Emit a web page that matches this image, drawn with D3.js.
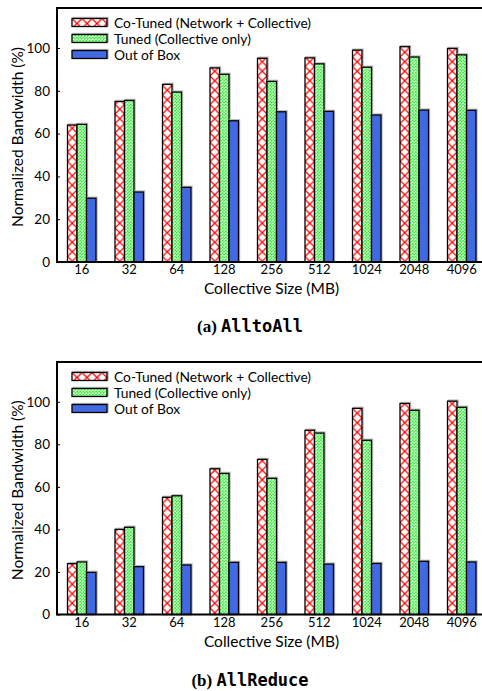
<!DOCTYPE html>
<html>
<head>
<meta charset="utf-8">
<script src="https://cdn.jsdelivr.net/npm/d3@7/dist/d3.min.js"></script>
<style>
  html, body { margin: 0; padding: 0; background: #fff; }
  svg { display: block; }
</style>
</head>
<body>
<svg id="chart" width="482" height="691"></svg>
<script>
// ---------------- data ----------------
const categories = ["16", "32", "64", "128", "256", "512", "1024", "2048", "4096"];
const seriesNames = ["Co-Tuned (Network + Collective)", "Tuned (Collective only)", "Out of Box"];
const yTicks = [0, 20, 40, 60, 80, 100];

const allToAllCoTuned = [64.0, 75.0, 83.0, 90.7, 95.2, 95.4, 99.0, 100.6, 99.8];
const allToAllTuned   = [64.3, 75.5, 79.4, 87.7, 84.4, 92.6, 91.0, 95.8, 96.8];
const allToAllOOB     = [29.8, 32.7, 34.9, 66.0, 70.2, 70.4, 68.7, 71.0, 70.9];

const allReduceCoTuned = [23.9, 40.0, 55.1, 68.5, 72.9, 86.6, 96.9, 99.2, 100.3];
const allReduceTuned   = [24.7, 41.0, 55.8, 66.3, 64.0, 85.3, 81.9, 96.0, 97.4];
const allReduceOOB     = [19.8, 22.5, 23.3, 24.5, 24.5, 23.7, 24.0, 25.0, 24.7];

const panelA = { label: "(a)", name: "AlltoAll", series: [allToAllCoTuned, allToAllTuned, allToAllOOB] };
const panelB = { label: "(b)", name: "AllReduce", series: [allReduceCoTuned, allReduceTuned, allReduceOOB] };

// ---------------- drawing ----------------
const svg = d3.select("#chart");
const FONT = "Lato, 'Open Sans', sans-serif";
const left = 57, right = 486;
const barW = 9.5;

const x = d3.scaleBand().domain(categories).range([58, 485.5]).padding(0);
const xs = d3.scaleBand().domain([0, 1, 2]).range([-1.5 * barW, 1.5 * barW]).padding(0);
const firstRedX = x(categories[0]) + x.bandwidth() / 2 + xs(0);

const defs = svg.append("defs");
// red cross (diamond) hatch
const pr = defs.append("pattern").attr("id", "redHatch").attr("patternUnits", "userSpaceOnUse")
  .attr("x", firstRedX).attr("y", 0).attr("width", barW).attr("height", barW);
pr.append("rect").attr("width", barW).attr("height", barW).attr("fill", "#fff");
pr.append("path").attr("d", `M0,0L${barW},${barW}M${barW},0L0,${barW}`)
  .attr("stroke", "#ff0000").attr("stroke-width", 1.25).attr("fill", "none");
// legend red hatch (aligned to legend box)
const prl = defs.append("pattern").attr("id", "redHatchL").attr("patternUnits", "userSpaceOnUse")
  .attr("x", 72).attr("y", 0).attr("width", 10).attr("height", 10);
prl.append("rect").attr("width", 10).attr("height", 10).attr("fill", "#fff");
prl.append("path").attr("d", "M0,0L10,10M10,0L0,10")
  .attr("stroke", "#ff0000").attr("stroke-width", 1.25).attr("fill", "none");
// green fine cross hatch
const gw = barW / 3;
const pg = defs.append("pattern").attr("id", "greenHatch").attr("patternUnits", "userSpaceOnUse")
  .attr("x", firstRedX).attr("y", 0).attr("width", gw).attr("height", gw);
pg.append("rect").attr("width", gw).attr("height", gw).attr("fill", "#fff");
pg.append("path").attr("d", `M0,0L${gw},${gw}M${gw},0L0,${gw}`)
  .attr("stroke", "#22ee22").attr("stroke-width", 0.8).attr("fill", "none");

const fills = ["url(#redHatch)", "url(#greenHatch)", "#4169e1"];
const legendFills = ["url(#redHatchL)", "url(#greenHatch)", "#4169e1"];

function drawPanel(panel, top, baseline, captionY) {
  const g = svg.append("g");
  const y = d3.scaleLinear().domain([0, 118.7]).range([baseline, top]);

  // bars
  panel.series.forEach((vals, si) => {
    const bg = g.append("g");
    bg.selectAll("rect.sh").data(vals).join("rect")
      .attr("class", "sh")
      .attr("x", (d, i) => x(categories[i]) + x.bandwidth() / 2 + xs(si) + 1)
      .attr("y", d => y(d) - 1)
      .attr("width", xs.bandwidth())
      .attr("height", d => baseline - y(d))
      .attr("fill", "none").attr("stroke", "#b8b8b8").attr("stroke-width", 1.4);
    bg.selectAll("rect.bar").data(vals).join("rect")
      .attr("class", "bar")
      .attr("x", (d, i) => x(categories[i]) + x.bandwidth() / 2 + xs(si))
      .attr("y", d => y(d))
      .attr("width", xs.bandwidth())
      .attr("height", d => baseline - y(d))
      .attr("fill", fills[si]).attr("stroke", "#000").attr("stroke-width", 1.3);
  });

  // frame
  g.append("rect").attr("x", left).attr("y", top).attr("width", right - left).attr("height", baseline - top)
    .attr("fill", "none").attr("stroke", "#000").attr("stroke-width", 2);

  // y axis (ticks inward)
  const yAxis = d3.axisLeft(y).tickValues(yTicks).tickSize(-3).tickPadding(7);
  const ya = g.append("g").attr("transform", `translate(${left},0)`).call(yAxis);
  ya.select(".domain").remove();
  ya.selectAll("line").attr("stroke", "#000").attr("stroke-width", 1);
  ya.selectAll("text").attr("font-family", FONT).attr("font-size", 13.5).attr("fill", "#000");

  // x axis labels
  const xAxis = d3.axisBottom(x).tickSize(0).tickPadding(3);
  const xa = g.append("g").attr("transform", `translate(0,${baseline})`).call(xAxis);
  xa.select(".domain").remove();
  xa.selectAll("text").attr("font-family", FONT).attr("font-size", 13).attr("fill", "#000");

  // axis titles
  g.append("text").attr("x", (left + right) / 2).attr("y", baseline + 32)
    .attr("text-anchor", "middle").attr("font-family", FONT).attr("font-size", 15.5)
    .text("Collective Size (MB)");
  g.append("text").attr("transform", `translate(23,${(top + baseline) / 2 + 2}) rotate(-90)`)
    .attr("text-anchor", "middle").attr("font-family", FONT).attr("font-size", 15.5)
    .text("Normalized Bandwidth (%)");

  // legend
  const lg = g.append("g").attr("transform", `translate(0,${top + 10.5})`);
  seriesNames.forEach((nm, i) => {
    lg.append("rect").attr("x", 72 + 1).attr("y", i * 16 - 1).attr("width", 35).attr("height", 8)
      .attr("fill", "none").attr("stroke", "#b8b8b8").attr("stroke-width", 1.4);
    lg.append("rect").attr("x", 72).attr("y", i * 16).attr("width", 35).attr("height", 8)
      .attr("fill", legendFills[i]).attr("stroke", "#000").attr("stroke-width", 1.3);
    lg.append("text").attr("x", 114).attr("y", i * 16 + 9.5)
      .attr("font-family", FONT).attr("font-size", 13.8).text(nm);
  });

  // caption
  const cap = svg.append("text").attr("x", 250).attr("y", captionY).attr("text-anchor", "middle")
    .attr("font-size", 17).attr("font-weight", "bold");
  cap.append("tspan").attr("font-family", "'Liberation Serif', serif").text(panel.label + " ");
  cap.append("tspan").attr("font-family", "'DejaVu Sans Mono', 'Liberation Mono', monospace").text(panel.name);
}

drawPanel(panelA, 8, 262, 332);
drawPanel(panelB, 362, 614.5, 686);
</script>
</body>
</html>
